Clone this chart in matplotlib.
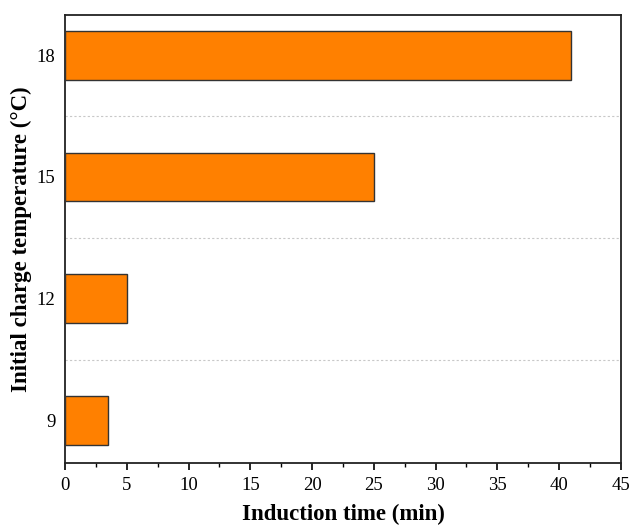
import matplotlib
matplotlib.use("Agg")
import matplotlib.pyplot as plt
from matplotlib.ticker import MultipleLocator

plt.rcParams['font.family'] = ['Liberation Serif', 'DejaVu Serif']

categories = ["9", "12", "15", "18"]
induction_time = [3.5, 5, 25, 41]
x_ticks = [0, 5, 10, 15, 20, 25, 30, 35, 40, 45]

fig = plt.figure(figsize=(6.31, 5.27), dpi=100)
ax = fig.add_axes([0.103, 0.1214, 0.881, 0.85])

pos = list(range(len(categories)))
ax.barh(pos, induction_time, height=0.4, color='#FF8000', edgecolor='#333333', linewidth=1.0, zorder=3)

for p in pos[:-1]:
    ax.axhline(p + 0.5, color='#c8c8c8', linestyle=(0, (2, 2)), linewidth=0.8, zorder=1)

ax.set_xlim(0, 45)
ax.set_ylim(-0.35, 3.33)
ax.set_xticks(x_ticks)
ax.xaxis.set_minor_locator(MultipleLocator(2.5))
ax.set_yticks(pos)
ax.set_yticklabels(categories)

ax.tick_params(axis='x', which='major', direction='out', length=5, width=1.2, labelsize=13.5, pad=5)
ax.tick_params(axis='x', which='minor', direction='out', length=3, width=1.0)
ax.tick_params(axis='y', which='both', length=0, labelsize=13.5, pad=7)

for s in ax.spines.values():
    s.set_linewidth(1.3)
    s.set_color('#222222')

ax.set_xlabel('Induction time (min)', fontsize=16.5, fontweight='bold', labelpad=7)
ax.set_ylabel('Initial charge temperature (°C)', fontsize=16.5, fontweight='bold', labelpad=3)

fig.savefig('out.png', dpi=100)
